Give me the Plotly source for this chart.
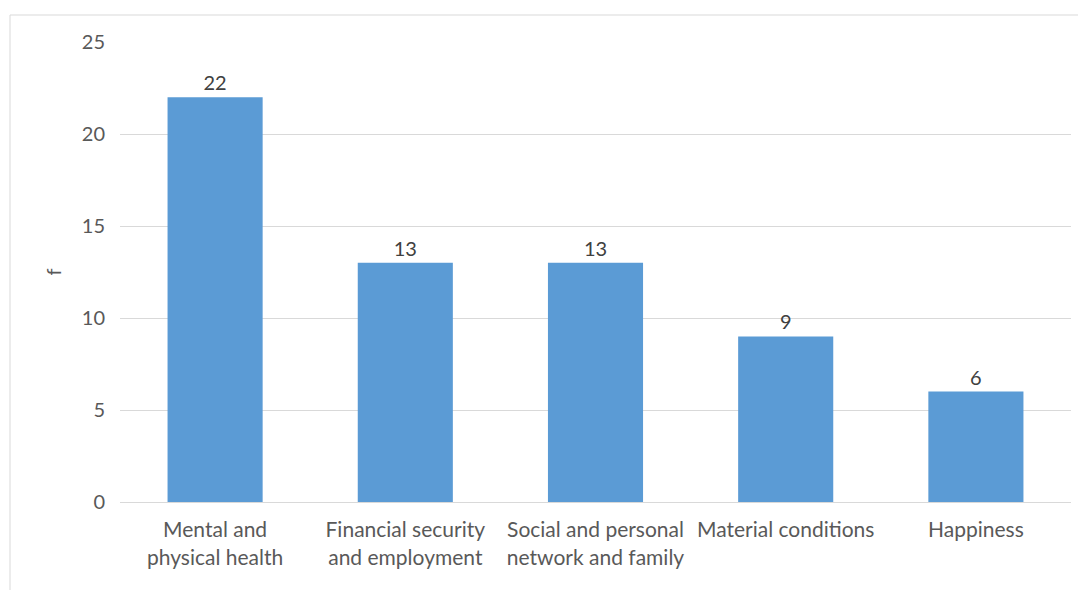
import plotly.graph_objects as go

categories = ["Mental and<br>physical health", "Financial security<br>and employment",
              "Social and personal<br>network and family", "Material conditions", "Happiness"]
values = [22, 13, 13, 9, 6]
y_ticks = [0, 5, 10, 15, 20, 25]

W, H = 1086, 590
OFF = 8  # page body margin
L, R, T, B = 120 - OFF, 23, 42 - OFF, 96
pw, ph = W - L - R, H - T - B

def px(x):
    return (x - OFF - L) / pw

def py(y):
    return (H - B - (y - OFF)) / ph

FONT = "Lato, sans-serif"
FS = 20

fig = go.Figure(go.Bar(
    x=categories, y=values, width=0.5,
    marker=dict(color="#5B9BD5", line=dict(width=0)),
    text=[str(v) for v in values], textposition="outside",
    textfont=dict(family=FONT, size=FS, color="#404040"),
    cliponaxis=False,
))

fig.update_layout(
    width=W, height=H,
    margin=dict(l=L, r=R, t=T, b=B),
    paper_bgcolor="white", plot_bgcolor="white",
    font=dict(family=FONT, size=FS, color="#595959"),
    showlegend=False,
    bargap=0.5,
    xaxis=dict(showgrid=False, showline=True, linecolor="#d9d9d9", linewidth=1,
               ticks="", ticklabelstandoff=9, tickfont=dict(size=21, color="#595959")),
    yaxis=dict(range=[0, 25], tickvals=y_ticks, showgrid=True, gridcolor="#d9d9d9",
               gridwidth=1, zeroline=False, showline=False, ticks="",
               ticklabelstandoff=14,
               tickfont=dict(size=FS, color="#595959"),
               title=dict(text="f", font=dict(size=FS, color="#595959"), standoff=14)),
    shapes=[
        dict(type="line", xref="paper", yref="paper", x0=px(10), x1=px(10), y0=py(15), y1=py(600),
             line=dict(color="#d9d9d9", width=1)),
        dict(type="line", xref="paper", yref="paper", x0=px(10), x1=px(1100), y0=py(15), y1=py(15),
             line=dict(color="#d9d9d9", width=1)),
    ],
)

fig.write_html("out.html")
